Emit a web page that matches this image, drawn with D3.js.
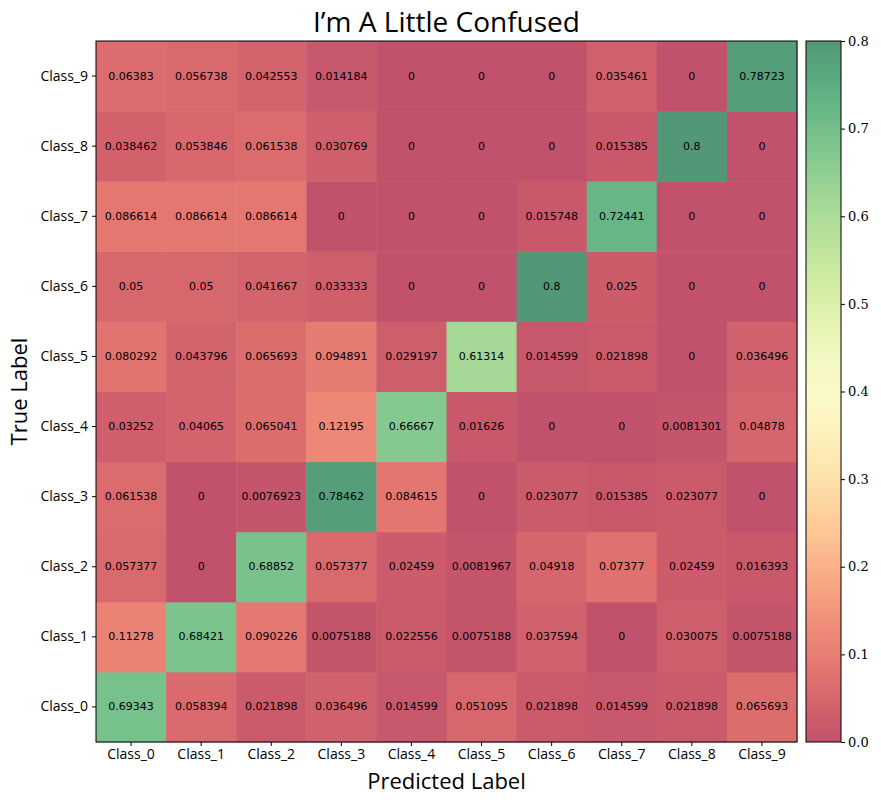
<!DOCTYPE html>
<html>
<head>
<meta charset="utf-8">
<script src="https://cdn.jsdelivr.net/npm/d3@7"></script>
<style>
  body { margin: 0; background: #fff; }
  text { fill: #000; }
</style>
</head>
<body>
<div id="chart"></div>
<script>
var classes = ["Class_0", "Class_1", "Class_2", "Class_3", "Class_4",
               "Class_5", "Class_6", "Class_7", "Class_8", "Class_9"];

// rows = true label, cols = predicted label
var row0 = [0.69343, 0.058394, 0.021898, 0.036496, 0.014599, 0.051095, 0.021898, 0.014599, 0.021898, 0.065693];
var row1 = [0.11278, 0.68421, 0.090226, 0.0075188, 0.022556, 0.0075188, 0.037594, 0, 0.030075, 0.0075188];
var row2 = [0.057377, 0, 0.68852, 0.057377, 0.02459, 0.0081967, 0.04918, 0.07377, 0.02459, 0.016393];
var row3 = [0.061538, 0, 0.0076923, 0.78462, 0.084615, 0, 0.023077, 0.015385, 0.023077, 0];
var row4 = [0.03252, 0.04065, 0.065041, 0.12195, 0.66667, 0.01626, 0, 0, 0.0081301, 0.04878];
var row5 = [0.080292, 0.043796, 0.065693, 0.094891, 0.029197, 0.61314, 0.014599, 0.021898, 0, 0.036496];
var row6 = [0.05, 0.05, 0.041667, 0.033333, 0, 0, 0.8, 0.025, 0, 0];
var row7 = [0.086614, 0.086614, 0.086614, 0, 0, 0, 0.015748, 0.72441, 0, 0];
var row8 = [0.038462, 0.053846, 0.061538, 0.030769, 0, 0, 0, 0.015385, 0.8, 0];
var row9 = [0.06383, 0.056738, 0.042553, 0.014184, 0, 0, 0, 0.035461, 0, 0.78723];
var rows = [row0, row1, row2, row3, row4, row5, row6, row7, row8, row9];

var cbTicks = [0.0, 0.1, 0.2, 0.3, 0.4, 0.5, 0.6, 0.7, 0.8];
var vmax = 0.8;
var alpha = 0.68;

var cells = [];
rows.forEach(function(r, i) {
    r.forEach(function(v, j) {
        cells.push({ t: classes[i], p: classes[j], value: v });
    });
});

var W = 881, H = 803;
var mLeft = 96, mTop = 41, size = 701;

var svg = d3.select("#chart").append("svg")
    .attr("width", W)
    .attr("height", H);

// blend colormap with white to mimic alpha
function color(v) {
    var c = d3.rgb(d3.interpolateRdYlGn(Math.min(v / vmax, 1)));
    var w = 255 * (1 - alpha);
    return d3.rgb(c.r * alpha + w, c.g * alpha + w, c.b * alpha + w).toString();
}

var x = d3.scaleBand().domain(classes).range([mLeft, mLeft + size]);
var y = d3.scaleBand().domain(classes.slice().reverse()).range([mTop, mTop + size]);

svg.selectAll("rect.cell")
    .data(cells)
    .enter()
    .append("rect")
    .attr("class", "cell")
    .attr("x", function(d) { return x(d.p); })
    .attr("y", function(d) { return y(d.t); })
    .attr("width", x.bandwidth() + 0.5)
    .attr("height", y.bandwidth() + 0.5)
    .attr("fill", function(d) { return color(d.value); });

svg.selectAll("text.val")
    .data(cells)
    .enter()
    .append("text")
    .attr("class", "val")
    .attr("x", function(d) { return x(d.p) + x.bandwidth() / 2; })
    .attr("y", function(d) { return y(d.t) + y.bandwidth() / 2; })
    .attr("text-anchor", "middle")
    .attr("dominant-baseline", "central")
    .style("font-family", "DejaVu Sans")
    .style("font-size", "11px")
    .text(function(d) { return String(d.value); });

svg.append("rect")
    .attr("x", mLeft).attr("y", mTop)
    .attr("width", size).attr("height", size)
    .attr("fill", "none").attr("stroke", "#000").attr("stroke-width", 1);

// axes
var xAxis = svg.append("g")
    .attr("transform", "translate(0," + (mTop + size) + ")")
    .call(d3.axisBottom(x).tickSize(4).tickPadding(3));
var yAxis = svg.append("g")
    .attr("transform", "translate(" + mLeft + ",0)")
    .call(d3.axisLeft(y).tickSize(4).tickPadding(4));
[xAxis, yAxis].forEach(function(g) {
    g.select(".domain").remove();
    g.selectAll("text")
        .style("font-family", "Open Sans")
        .style("font-size", "14px");
});

svg.append("text")
    .attr("x", mLeft + size / 2)
    .attr("y", 789)
    .attr("text-anchor", "middle")
    .style("font-family", "Open Sans")
    .style("font-size", "22px")
    .text("Predicted Label");

svg.append("text")
    .attr("transform", "translate(27," + (mTop + size / 2) + ") rotate(-90)")
    .attr("text-anchor", "middle")
    .style("font-family", "Open Sans")
    .style("font-size", "22px")
    .text("True Label");

svg.append("text")
    .attr("x", mLeft + size / 2)
    .attr("y", 32)
    .attr("text-anchor", "middle")
    .style("font-family", "Open Sans")
    .style("font-size", "28px")
    .text("I\u2019m A Little Confused");

// colorbar
var cbX = 806, cbW = 35;
var cbScale = d3.scaleLinear().domain([0, vmax]).range([mTop + size, mTop]);
var defs = svg.append("defs");
var grad = defs.append("linearGradient")
    .attr("id", "cbgrad")
    .attr("x1", "0").attr("y1", "1").attr("x2", "0").attr("y2", "0");
d3.range(0, 1.0001, 0.05).forEach(function(t) {
    grad.append("stop")
        .attr("offset", t)
        .attr("stop-color", color(t * vmax));
});
svg.append("rect")
    .attr("x", cbX).attr("y", mTop)
    .attr("width", cbW).attr("height", size)
    .attr("fill", "url(#cbgrad)")
    .attr("stroke", "#000").attr("stroke-width", 1);

var cbAxis = svg.append("g")
    .attr("transform", "translate(" + (cbX + cbW) + ",0)")
    .call(d3.axisRight(cbScale).tickValues(cbTicks).tickFormat(d3.format(".1f")).tickSize(4).tickPadding(3));
cbAxis.select(".domain").remove();
cbAxis.selectAll("text")
    .style("font-family", "DejaVu Serif")
    .style("font-size", "13px");
</script>
</body>
</html>
